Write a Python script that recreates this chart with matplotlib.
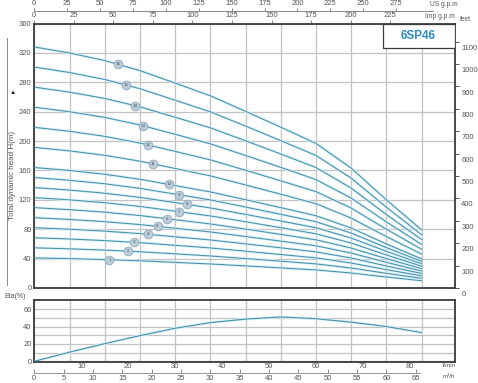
import numpy as np
import matplotlib
matplotlib.use("Agg")
import matplotlib.pyplot as plt
from matplotlib.lines import Line2D
from matplotlib.patches import Rectangle
import matplotlib.transforms as mtransforms

plt.rcParams['font.family'] = ['Liberation Sans', 'DejaVu Sans']

# ---------------- data ----------------
flow = [0, 6, 12, 18, 24, 30, 36, 42, 48, 54, 60, 66]          # m3/h
curve_labels = ["1", "2", "3", "4", "5", "6", "7", "8",
                "9", "10", "11", "12", "13", "14", "15", "16"]
head_1 = [41.0, 40.0, 38.7, 37.0, 34.9, 32.7, 30.1, 27.4, 24.6, 20.4, 15.0, 9.9]
head_2 = [54.7, 53.3, 51.6, 49.3, 46.5, 43.6, 40.1, 36.5, 32.8, 27.2, 20.0, 13.2]
head_3 = [68.4, 66.7, 64.5, 61.7, 58.1, 54.5, 50.1, 45.6, 41.0, 34.0, 25.0, 16.5]
head_4 = [82.0, 80.0, 77.4, 74.0, 69.7, 65.4, 60.1, 54.7, 49.2, 40.8, 30.0, 19.8]
head_5 = [95.7, 93.3, 90.3, 86.3, 81.3, 76.3, 70.1, 63.8, 57.4, 47.6, 35.0, 23.1]
head_6 = [109.4, 106.6, 103.2, 98.6, 93.0, 87.2, 80.2, 73.0, 65.6, 54.4, 40.0, 26.4]
head_7 = [123.0, 120.0, 116.1, 111.0, 104.6, 98.1, 90.2, 82.1, 73.8, 61.2, 45.0, 29.7]
head_8 = [136.7, 133.3, 129.0, 123.3, 116.2, 109.0, 100.2, 91.2, 82.0, 68.0, 50.0, 33.0]
head_9 = [150.4, 146.6, 141.9, 135.6, 127.8, 119.9, 110.2, 100.3, 90.2, 74.8, 55.0, 36.3]
head_10 = [164.0, 160.0, 154.8, 148.0, 139.4, 130.8, 120.2, 109.4, 98.4, 81.6, 60.0, 39.6]
head_11 = [191.4, 186.6, 180.6, 172.6, 162.7, 152.6, 140.3, 127.7, 114.8, 95.2, 70.0, 46.2]
head_12 = [218.7, 213.3, 206.4, 197.3, 185.9, 174.4, 160.3, 145.9, 131.2, 108.8, 80.0, 52.8]
head_13 = [246.1, 239.9, 232.2, 221.9, 209.2, 196.2, 180.4, 164.2, 147.6, 122.4, 90.0, 59.4]
head_14 = [273.4, 266.6, 258.0, 246.6, 232.4, 218.0, 200.4, 182.4, 164.0, 136.0, 100.0, 66.0]
head_15 = [300.7, 293.3, 283.8, 271.3, 255.6, 239.8, 220.4, 200.6, 180.4, 149.6, 110.0, 72.6]
head_16 = [328.1, 319.9, 309.6, 295.9, 278.9, 261.6, 240.5, 218.9, 196.8, 163.2, 120.0, 79.2]
heads = [head_1, head_2, head_3, head_4, head_5, head_6, head_7, head_8,
         head_9, head_10, head_11, head_12, head_13, head_14, head_15, head_16]
label_flow = [12.8, 15.9, 17.0, 19.4, 21.0, 22.7, 24.7, 26.0,
              24.7, 22.9, 20.2, 19.4, 18.6, 17.2, 15.6, 14.3]
efficiency = [0, 10.5, 20.3, 29.5, 38.0, 44.5, 48.5, 51.0, 49.0, 45.0, 40.0, 33.0]

head_ticks = [0, 40, 80, 120, 160, 200, 240, 280, 320, 360]
feet_ticks = [0, 100, 200, 300, 400, 500, 600, 700, 800, 900, 1000, 1100]
eta_ticks = [0, 20, 40, 60]
us_gpm_ticks = [0, 25, 50, 75, 100, 125, 150, 175, 200, 225, 250, 275]
imp_gpm_ticks = [0, 25, 50, 75, 100, 125, 150, 175, 200, 225]
lmin_ticks = [10, 20, 30, 40, 50, 60, 70, 80]
m3h_ticks = [0, 5, 10, 15, 20, 25, 30, 35, 40, 45, 50, 55, 60, 65]
model = "6SP46"

# ---------------- figure ----------------
W, H = 478, 383
fig = plt.figure(figsize=(W / 100, H / 100), dpi=100)

def fx(px):
    return px / W

def fy(py):
    return 1 - py / H

L, R = 34.3, 455.0
ax = fig.add_axes([fx(L), fy(288), fx(R - L), fy(23.5) - fy(288)])
axe = fig.add_axes([fx(L), fy(362), fx(R - L), fy(300) - fy(362)])

XMAX = 71.7
grid_col = '#c2c2c2'
spine_col = '#3a3a3a'
line_col = '#4690aa'
halo_col = '#d8f1f8'
txt_col = '#555555'
fs = 5.5

for a in (ax, axe):
    a.set_xlim(0, XMAX)
    a.set_xticks(np.arange(0, 67, 6))
    a.tick_params(axis='x', length=0, labelbottom=False)
    a.grid(True, color=grid_col, lw=0.9)
    a.set_axisbelow(True)
    for s in a.spines.values():
        s.set_color(spine_col)
        s.set_linewidth(1.3)

# main head curves
ax.set_ylim(0, 360)
ax.set_yticks(head_ticks)
ax.tick_params(axis='y', length=0, pad=2, labelsize=fs, labelcolor=txt_col)
for h in heads:
    ax.plot(flow, h, color=halo_col, lw=2.0, solid_capstyle='butt', zorder=2)
for h in heads:
    ax.plot(flow, h, color=line_col, lw=0.75, zorder=3)
for lab, q, h in zip(curve_labels, label_flow, heads):
    yv = np.interp(q, flow, h)
    ax.plot(q, yv, 'o', ms=6.3, mfc='#bccdd9', mec='#8fa8b9', mew=0.6, zorder=4)
    ax.text(q, yv, lab, fontsize=3.2, ha='center', va='center', color='#3d4f5c', zorder=5)

# model box
ax.add_patch(Rectangle((0.829, 0.906), 0.171, 0.094, transform=ax.transAxes,
                       facecolor='white', edgecolor=spine_col, lw=0.9, zorder=6))
ax.text(0.913, 0.953, model, transform=ax.transAxes, fontsize=8.5, fontweight='bold',
        color='#2f8cc4', ha='center', va='center', zorder=7)

# right feet axis
secy = ax.secondary_yaxis('right', functions=(lambda m: m * 3.281, lambda f: f / 3.281))
secy.set_yticks(feet_ticks)
secy.tick_params(axis='y', length=3, width=0.6, color=spine_col, pad=1.5,
                 labelsize=fs, labelcolor=txt_col)
secy.spines['right'].set_visible(False)
off = mtransforms.ScaledTranslation(0, -4 / 72, fig.dpi_scale_trans)
for lbl in secy.get_yticklabels():
    lbl.set_transform(lbl.get_transform() + off)

# top axes: Imp g.p.m and US g.p.m
sec_imp = ax.secondary_xaxis('top', functions=(lambda q: q * 3.71, lambda v: v / 3.71))
sec_imp.set_xticks(imp_gpm_ticks)
sec_imp.tick_params(axis='x', length=2.5, width=0.6, color='#777', pad=0.5,
                    labelsize=fs, labelcolor=txt_col)
sec_imp.spines['top'].set_visible(False)

loc_us = 1 + 12.5 / 264.5
sec_us = ax.secondary_xaxis(loc_us, functions=(lambda q: q * 4.46, lambda v: v / 4.46))
sec_us.set_xticks(us_gpm_ticks)
sec_us.tick_params(axis='x', length=2.5, width=0.6, color='#777', pad=0.5,
                   labelsize=fs, labelcolor=txt_col)
sec_us.spines['top'].set_visible(False)
fig.add_artist(Line2D([fx(L), fx(433)], [fy(11), fy(11)], color='#777', lw=0.6))

fig.text(fx(430), fy(5), "US g.p.m", fontsize=4.8, color=txt_col, va='center')
fig.text(fx(425), fy(16), "Imp g.p.m", fontsize=4.8, color=txt_col, va='center')
fig.text(fx(460), fy(19.5), "feet", fontsize=4.8, color=txt_col, va='center')

# efficiency panel
axe.set_ylim(-0.8, 70.5)
axe.set_yticks(eta_ticks)
axe.set_yticks([10, 30, 50], minor=True)
axe.grid(True, which='minor', axis='y', color=grid_col, lw=0.9)
axe.tick_params(axis='y', which='both', length=0, pad=2, labelsize=fs, labelcolor=txt_col)
axe.plot(flow, efficiency, color=halo_col, lw=2.0, zorder=2)
axe.plot(flow, efficiency, color=line_col, lw=0.8, zorder=3)

sec_l = axe.secondary_xaxis('bottom', functions=(lambda q: q * 1.25, lambda v: v / 1.25))
sec_l.set_xticks(lmin_ticks)
sec_l.tick_params(axis='x', length=0, pad=1, labelsize=fs, labelcolor=txt_col)
sec_l.spines['bottom'].set_visible(False)

loc_m = -10.5 / 62
sec_m = axe.secondary_xaxis(loc_m, functions=(lambda q: q, lambda v: v))
sec_m.set_xticks(m3h_ticks)
sec_m.tick_params(axis='x', direction='in', length=3, width=0.6, color='#777', pad=1.5,
                  labelsize=fs, labelcolor=txt_col)
sec_m.spines['bottom'].set_visible(False)
fig.add_artist(Line2D([fx(L), fx(420)], [fy(372.5), fy(372.5)], color='#888', lw=0.6))

fig.text(fx(443), fy(365.5), "l/min", fontsize=4.5, color=txt_col, va='center')
fig.text(fx(443), fy(376), "m\u00b3/h", fontsize=4.5, color=txt_col, va='center')

# left titles
fig.text(fx(15), fy(296.5), "Eta(%)", fontsize=5, color=txt_col, ha='center', va='center')
fig.text(fx(13), fy(175), "Total dynamic head H(m)", fontsize=5.8, color=txt_col,
         rotation=90, ha='center', va='center')
fig.text(fx(13), fy(92), "\u25b2", fontsize=4.5, color='#222', ha='center', va='center')
fig.add_artist(Line2D([fx(7), fx(7)], [fy(38), fy(285)], color='#777', lw=0.6))

fig.savefig("out.png", dpi=100)
